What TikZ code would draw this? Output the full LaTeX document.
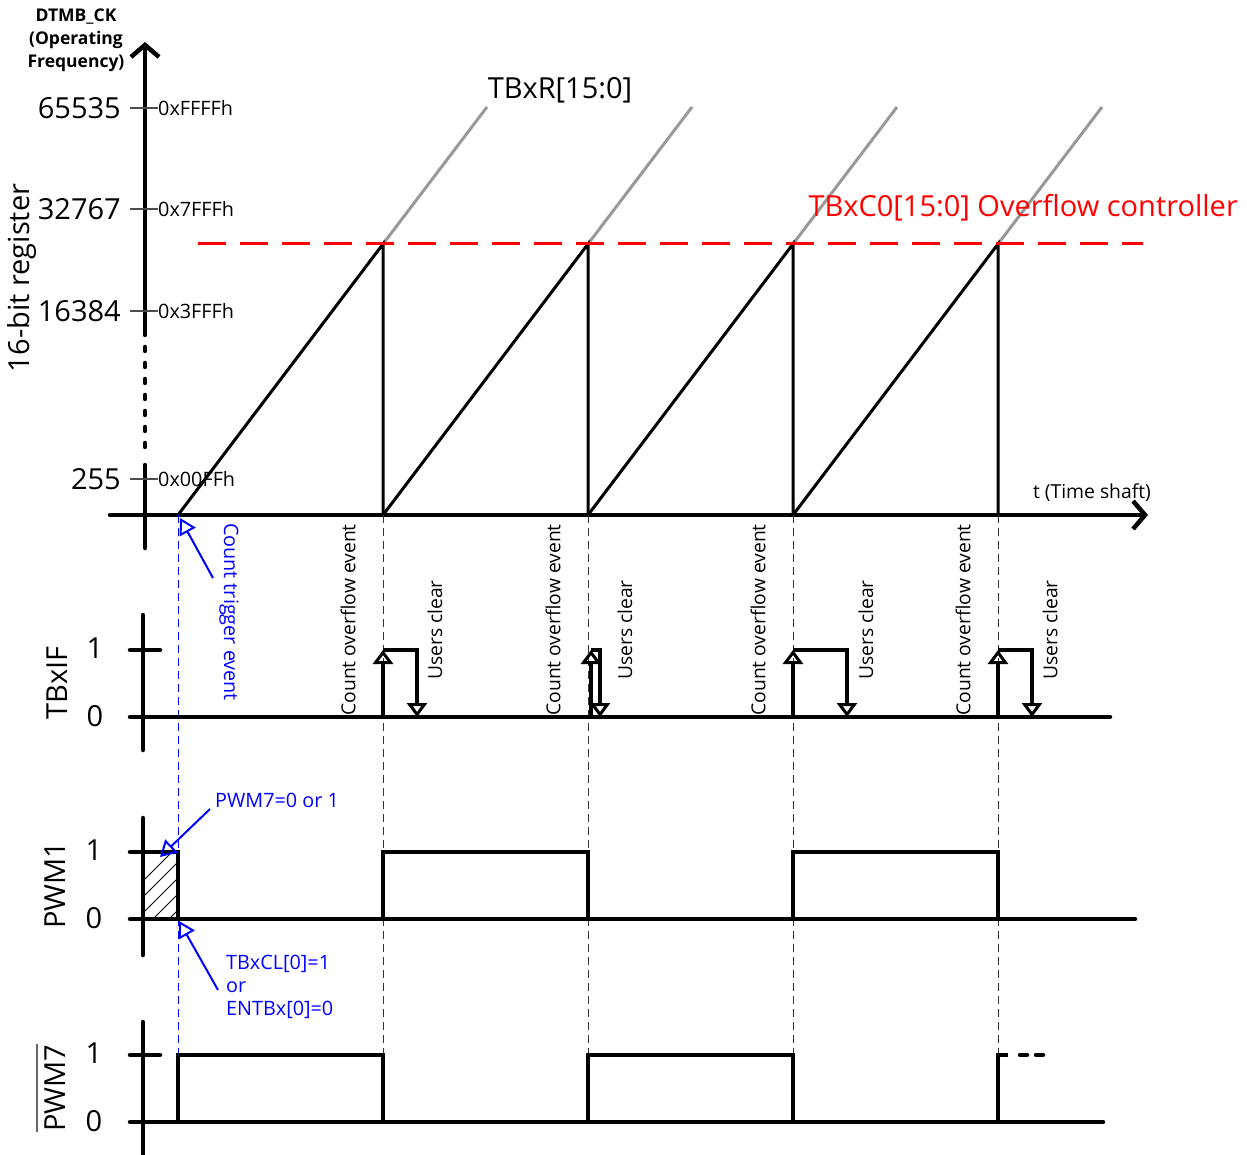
\documentclass[tikz,border=0pt]{standalone}
\usepackage{fontspec}
\setmainfont{Open Sans}
\usetikzlibrary{arrows.meta, positioning}
\definecolor{tbblue}{HTML}{0000FF}
\definecolor{tbred}{HTML}{FF0000}
\definecolor{tbgray}{HTML}{999999}
\newcommand{\fbig}{\fontsize{29}{33}\selectfont}
\newcommand{\fmid}{\fontsize{19.3}{23}\selectfont}
\newcommand{\fsmall}{\fontsize{19.8}{23}\selectfont}
\newcommand{\fhead}{\fontsize{17.5}{23}\selectfont}

\begin{document}
\begin{tikzpicture}[
  x=1pt, y=-1pt,
  every node/.style={inner sep=0pt},
  axisline/.style={line width=4.5pt, line cap=round},
  wave/.style={line width=4pt, line join=miter},
  ramp/.style={line width=3pt},
  extend/.style={line width=3pt, draw=tbgray},
  guide/.style={line width=1pt, dash pattern=on 8pt off 5pt},
  tickline/.style={line width=1.5pt, draw=black!70},
  flag/.style={line width=3.5pt, -{Triangle[open, length=14pt, width=20pt, line width=3pt]}},
  note/.style={line width=2pt, draw=tbblue, -{Triangle[open, length=16pt, width=18pt, line width=2pt]}},
]
\useasboundingbox (0,0) rectangle (1247,1155);

% Register axis
\draw[axisline, -{Straight Barb[length=12pt, width=28pt, line width=4.5pt]}] (145,335) -- (145,42);
\draw[axisline, dash pattern=on 4pt off 12pt] (145,347) -- (145,455);
\draw[axisline] (145,465) -- (145,548);
\draw[axisline, -{Straight Barb[length=12pt, width=28pt, line width=4.5pt]}] (110,515) -- (1148,515);

\node[font=\fhead\bfseries, align=center] (clk) at (76,40) {DTMB\_CK\\(Operating\\Frequency)};
\node[font=\fbig, rotate=90] (reg) at (22,278) {16-bit register};
\node[font=\fmid] (tshaft) at (1092,493) {t (Time shaft)};

% Register values
\foreach \v/\h/\y in {65535/0xFFFFh/108, 32767/0x7FFFh/209, 16384/0x3FFFh/311, 255/0x00FFh/479} {
  \draw[tickline] (130,\y) -- (158,\y);
  \node[font=\fsmall, anchor=west] (h\v) at (158,\y) {\h};
  \node[font=\fbig, anchor=east] (v\v) at (121,\y) {\v};
}

% Counter ramps
\foreach \s/\e in {178/383, 383/588, 588/793, 793/998} {
  \draw[extend] (\e,244) -- ++(104,-137);
  \draw[ramp] (\s,515) -- (\e,244) -- (\e,515);
}
\draw[tbred, line width=3pt, dash pattern=on 28pt off 14pt] (198,244) -- (1143,244);
\node[font=\fbig] (tbxr) at (560,90) {TBxR[15:0]};
\node[font=\fbig, text=tbred, anchor=east] (tbxc) at (1238,208) {TBxC0[15:0] Overflow controller};

% Event guides
\foreach \x in {383,588,793,998}
  \draw[guide, draw=black!80] (\x,515) -- (\x,1055);
\draw[guide, draw=tbblue] (178,515) -- (178,1055);

% TBxIF
\draw[axisline] (143,615) -- (143,750);
\draw[axisline] (130,650) -- (160,650);
\draw[axisline] (130,717) -- (1110,717);
\node[font=\fbig, rotate=90] (tbxif) at (57,683) {TBxIF};
\node[font=\fbig] (if1) at (95,648) {1};
\node[font=\fbig] (if0) at (95,716) {0};
\foreach \u/\d in {383/417, 591/600, 793/847, 998/1032} {
  \draw[flag] (\u,717) -- (\u,650);
  \draw[flag] (\u,650) -- (\d,650) -- (\d,717);
}
\foreach \x/\t in {348/1, 553/2, 758/3, 963/4}
  \node[font=\fmid, rotate=90] (ov\t) at (\x,620) {Count overflow event};
\foreach \x/\t in {435/1, 625/2, 866/3, 1050/4}
  \node[font=\fmid, rotate=90] (uc\t) at (\x,630) {Users clear};

% PWM1
\draw[axisline] (143,818) -- (143,955);
\draw[axisline] (130,852) -- (160,852);
\draw[axisline] (130,919) -- (1135,919);
\node[font=\fbig, rotate=90] (pwm1) at (55,885) {PWM1};
\node[font=\fbig] (p11) at (94,850) {1};
\node[font=\fbig] (p10) at (94,918) {0};
\begin{scope}
  \clip (145,852) rectangle (178,919);
  \foreach \k in {0,...,7}
    \draw[line width=1pt] (105+16*\k,919) -- ++(80,-80);
\end{scope}
\draw[wave] (145,852) -- (178,852) -- (178,919);
\draw[wave] (383,919) -- (383,852) -- (588,852) -- (588,919);
\draw[wave] (793,919) -- (793,852) -- (998,852) -- (998,919);

% PWM7
\draw[axisline] (143,1022) -- (143,1155);
\draw[axisline] (130,1055) -- (160,1055);
\draw[axisline] (130,1122) -- (1103,1122);
\node[font=\fbig, rotate=90] (pwm7) at (55,1088) {PWM7};
\draw[line width=2pt, draw=black!60] ([xshift=-7pt]pwm7.north west) -- ([xshift=-7pt]pwm7.north east);
\node[font=\fbig] (p71) at (94,1053) {1};
\node[font=\fbig] (p70) at (94,1121) {0};
\draw[wave] (178,1122) -- (178,1055) -- (383,1055) -- (383,1122);
\draw[wave] (588,1122) -- (588,1055) -- (793,1055) -- (793,1122);
\draw[wave] (998,1122) -- (998,1055) -- (1008,1055);
\draw[axisline, dash pattern=on 7pt off 9pt] (1020,1055) -- (1045,1055);

% Notes
\node[font=\fsmall, text=tbblue, rotate=-90] (trig) at (229,612) {Count trigger event};
\coordinate (trigfrom) at (213,578);
\coordinate (trigto) at (180,518);
\draw[note] (trigfrom) -- (trigto);
\node[font=\fsmall, text=tbblue, anchor=west] (pwmnote) at (215,800) {PWM7=0 or 1};
\coordinate (pwmfrom) at (210,809);
\coordinate (pwmto) at (160,857);
\draw[note] (pwmfrom) -- (pwmto);
\node[font=\fsmall, text=tbblue, align=left, anchor=north west] (clrnote) at (226,955) {TBxCL[0]=1\\or\\ENTBx[0]=0};
\coordinate (clrfrom) at (218,990);
\coordinate (clrto) at (179,921);
\draw[note] (clrfrom) -- (clrto);

\end{tikzpicture}
\end{document}
